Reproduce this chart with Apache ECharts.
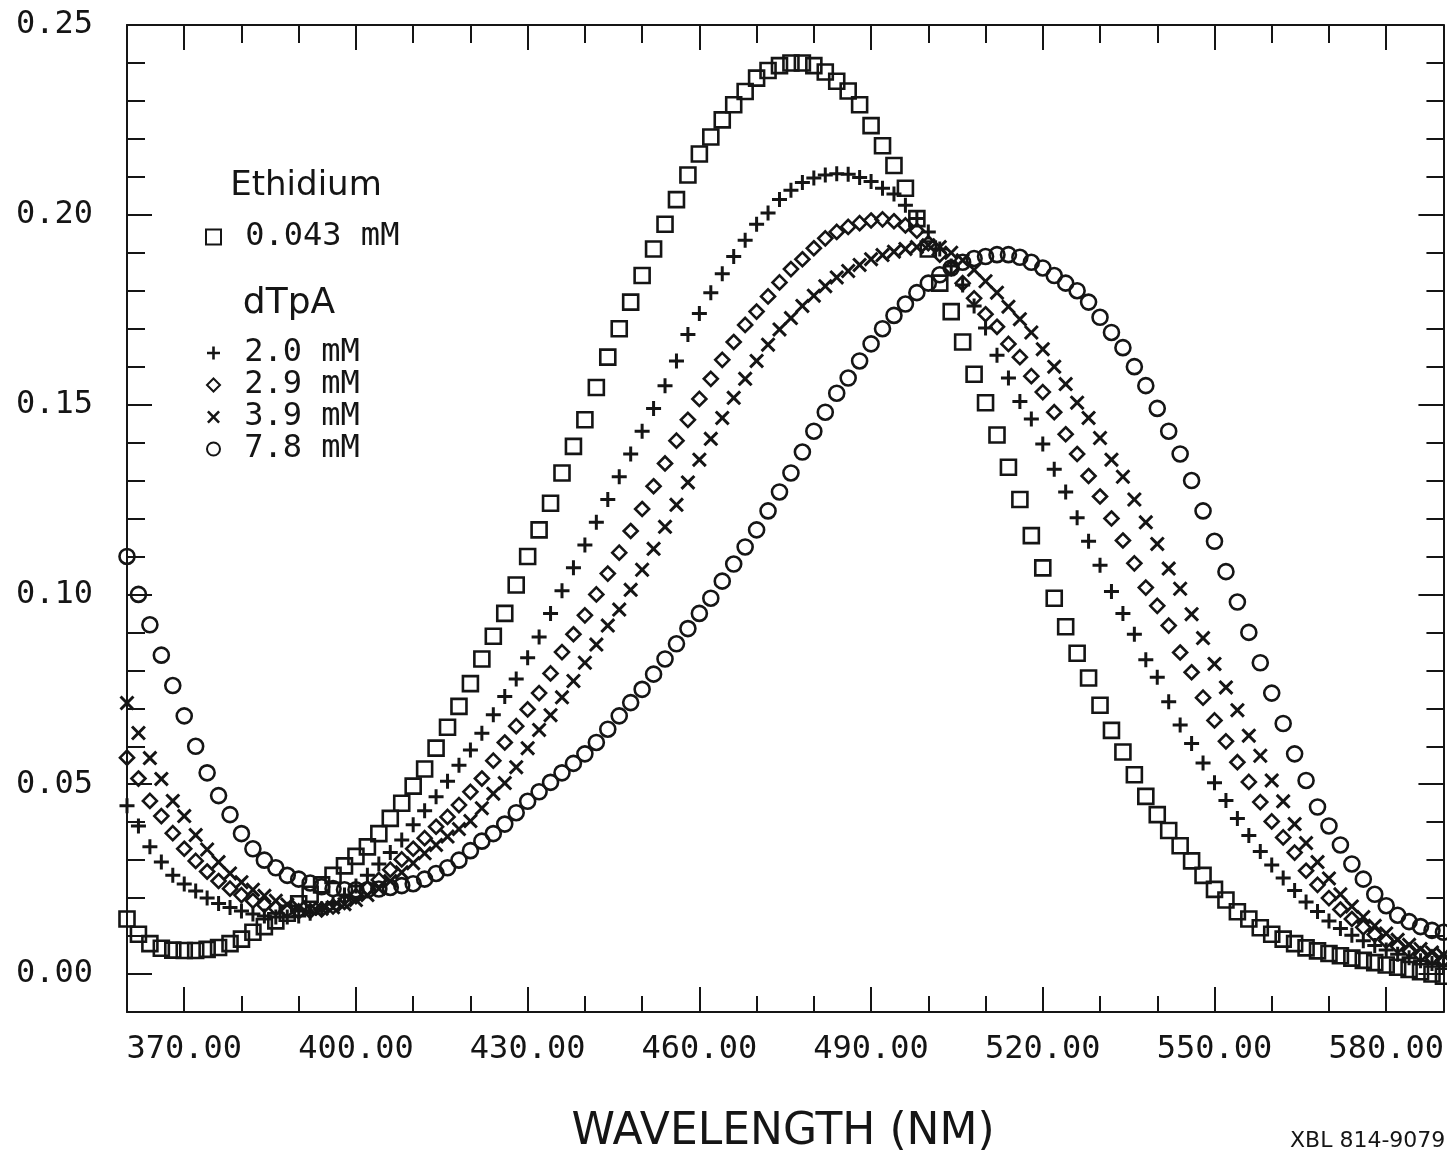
<!DOCTYPE html>
<html>
<head>
<meta charset="utf-8">
<script src="https://cdn.jsdelivr.net/npm/echarts/dist/echarts.min.js"></script>
<style>
html,body{margin:0;padding:0;background:#ffffff;}
#c{width:1447px;height:1154px;}
</style>
</head>
<body>
<div id="c"></div>
<script>
// Wavelength (nm), one point every 2 nm
const wavelengths = [
  360,362,364,366,368,370,372,374,376,378,
  380,382,384,386,388,390,392,394,396,398,
  400,402,404,406,408,410,412,414,416,418,
  420,422,424,426,428,430,432,434,436,438,
  440,442,444,446,448,450,452,454,456,458,
  460,462,464,466,468,470,472,474,476,478,
  480,482,484,486,488,490,492,494,496,498,
  500,502,504,506,508,510,512,514,516,518,
  520,522,524,526,528,530,532,534,536,538,
  540,542,544,546,548,550,552,554,556,558,
  560,562,564,566,568,570,572,574,576,578,
  580,582,584,586,588,590
];
// Ethidium 0.043 mM alone (squares)
const ethidium = [
  0.0145,0.0105,0.008,0.0068,0.0063,0.0062,0.0062,0.0065,0.007,0.008,
  0.0092,0.011,0.0125,0.014,0.016,0.0185,0.021,0.0235,0.026,0.0285,
  0.031,0.0335,0.037,0.041,0.045,0.0495,0.054,0.0595,0.065,0.0705,
  0.0765,0.083,0.089,0.095,0.1025,0.110,0.117,0.124,0.132,0.139,
  0.146,0.1545,0.1625,0.170,0.177,0.184,0.191,0.1975,0.204,0.2105,
  0.216,0.2205,0.225,0.229,0.2325,0.236,0.238,0.2393,0.240,0.240,
  0.2393,0.2376,0.2352,0.2326,0.229,0.2235,0.2182,0.213,0.207,0.199,
  0.191,0.182,0.1745,0.1665,0.158,0.1505,0.142,0.1335,0.125,0.1155,
  0.107,0.099,0.0915,0.0845,0.078,0.0708,0.0642,0.0585,0.0525,0.0468,
  0.042,0.0378,0.0338,0.0298,0.026,0.0223,0.0195,0.0164,0.0145,0.0122,
  0.0105,0.0092,0.008,0.0069,0.0061,0.0054,0.0048,0.0042,0.0036,0.003,
  0.0024,0.0018,0.0012,0.0006,0.0,-0.0006
];
// dTpA 2.0 mM (plus)
const dTpA20 = [
  0.0443,0.039,0.0335,0.0295,0.026,0.0237,0.0219,0.020,0.0186,0.0175,
  0.0166,0.0158,0.0153,0.015,0.015,0.0153,0.016,0.0172,0.0188,0.0208,
  0.0232,0.026,0.029,0.032,0.0353,0.0393,0.043,0.0467,0.0508,0.055,
  0.059,0.0634,0.0683,0.0731,0.0777,0.0833,0.0888,0.095,0.101,0.107,
  0.113,0.119,0.125,0.131,0.137,0.143,0.149,0.155,0.1615,0.1685,
  0.174,0.1795,0.1845,0.189,0.1933,0.1975,0.2005,0.204,0.2065,0.2085,
  0.2097,0.2105,0.2108,0.2107,0.2098,0.2088,0.207,0.2055,0.2025,0.199,
  0.1955,0.191,0.1865,0.1815,0.176,0.1702,0.163,0.157,0.1508,0.1462,
  0.1396,0.133,0.127,0.1202,0.114,0.1077,0.1008,0.095,0.0895,0.0828,
  0.0782,0.0717,0.0656,0.0607,0.0556,0.0504,0.0457,0.041,0.0365,0.0323,
  0.0287,0.0253,0.022,0.019,0.0165,0.014,0.012,0.0102,0.0088,0.0075,
  0.0063,0.0052,0.0043,0.0035,0.0028,0.0022
];
// dTpA 2.9 mM (diamond)
const dTpA29 = [
  0.057,0.0515,0.0456,0.0416,0.0371,0.033,0.0298,0.027,0.0245,0.0225,
  0.0208,0.0193,0.0182,0.0174,0.0168,0.0165,0.0166,0.017,0.0178,0.019,
  0.0205,0.0225,0.0248,0.0275,0.0302,0.033,0.0358,0.0388,0.0414,0.0445,
  0.048,0.0515,0.0562,0.061,0.0653,0.0697,0.074,0.0792,0.0848,0.0895,
  0.0945,0.1,0.1055,0.111,0.1167,0.1225,0.1285,0.1345,0.1405,0.146,
  0.1515,0.1568,0.1618,0.1665,0.171,0.1745,0.1785,0.1822,0.1857,0.1883,
  0.1912,0.1938,0.1955,0.1968,0.1978,0.1985,0.1988,0.1983,0.1972,0.1958,
  0.1925,0.1895,0.186,0.182,0.178,0.1738,0.1705,0.166,0.1625,0.1575,
  0.1533,0.148,0.1422,0.137,0.1312,0.1258,0.12,0.1142,0.1082,0.1018,
  0.097,0.0918,0.0847,0.0795,0.0728,0.0668,0.0613,0.0558,0.0506,0.0453,
  0.0402,0.036,0.032,0.0272,0.0235,0.02,0.017,0.0145,0.0123,0.0104,
  0.0088,0.0074,0.0062,0.0052,0.0044,0.0037
];
// dTpA 3.9 mM (cross)
const dTpA39 = [
  0.0714,0.0635,0.0569,0.0514,0.0456,0.0416,0.0366,0.0328,0.0295,0.0265,
  0.0242,0.0222,0.0206,0.0193,0.0183,0.0176,0.0172,0.0172,0.0176,0.0184,
  0.0195,0.0208,0.0225,0.0245,0.0268,0.0292,0.0318,0.034,0.0362,0.0382,
  0.0403,0.0437,0.0475,0.0503,0.0545,0.0595,0.0643,0.0682,0.0729,0.0772,
  0.082,0.0868,0.0918,0.096,0.1012,0.1065,0.112,0.1178,0.1236,0.1295,
  0.1355,0.141,0.1465,0.1518,0.1568,0.1615,0.1658,0.1698,0.1728,0.176,
  0.1787,0.1812,0.1835,0.1852,0.1868,0.1883,0.1894,0.1903,0.191,0.1915,
  0.192,0.1915,0.19,0.188,0.1855,0.1825,0.1795,0.1758,0.1725,0.169,
  0.1646,0.16,0.1554,0.1505,0.1465,0.1412,0.1355,0.131,0.125,0.119,
  0.1133,0.1068,0.1015,0.0948,0.0885,0.0817,0.0755,0.0695,0.0628,0.0575,
  0.051,0.0455,0.0395,0.0345,0.0295,0.0252,0.021,0.0178,0.015,0.0127,
  0.0107,0.009,0.0077,0.0066,0.0057,0.005
];
// dTpA 7.8 mM (circle)
const dTpA78 = [
  0.110,0.100,0.092,0.084,0.076,0.068,0.060,0.053,0.047,0.042,
  0.037,0.033,0.030,0.028,0.026,0.025,0.024,0.023,0.0225,0.0222,
  0.0222,0.0222,0.0224,0.0228,0.0233,0.0238,0.025,0.0265,0.028,0.030,
  0.0325,0.035,0.037,0.0395,0.0425,0.0455,0.048,0.0505,0.053,0.0555,
  0.058,0.061,0.0645,0.068,0.0715,0.075,0.079,0.083,0.087,0.091,
  0.095,0.099,0.1035,0.108,0.1125,0.117,0.122,0.127,0.132,0.1375,
  0.143,0.148,0.153,0.157,0.1615,0.166,0.170,0.1735,0.1765,0.1795,
  0.182,0.1842,0.186,0.1875,0.1885,0.189,0.1895,0.1895,0.1888,0.1875,
  0.186,0.184,0.182,0.180,0.177,0.173,0.169,0.165,0.160,0.155,
  0.149,0.143,0.137,0.130,0.122,0.114,0.106,0.098,0.090,0.082,
  0.074,0.066,0.058,0.051,0.044,0.039,0.034,0.029,0.025,0.021,
  0.018,0.0155,0.0138,0.0125,0.0115,0.011
];
// Axis ticks and labels
const xLabelTicks = [370,400,430,460,490,520,550,580];
const xSmallTicks = [370,380,390,400,410,420,430,440,450,460,470,480,490,500,510,520,530,540,550,560,570,580];
const yLabelTicks = [0.00,0.05,0.10,0.15,0.20,0.25];
const yLongTicks = [0.00,0.05,0.10,0.15,0.20];
const ySmallTicks = [0.00,0.01,0.02,0.03,0.04,0.05,0.06,0.07,0.08,0.09,0.10,0.11,0.12,0.13,0.14,0.15,0.16,0.17,0.18,0.19,0.20,0.21,0.22,0.23,0.24];

const INK = '#151515';
const MONO = '"DejaVu Sans Mono", monospace';
const SANS = '"DejaVu Sans", sans-serif';

function xAx(pos, ticks, len, line, labels) {
  return {
    type: 'value', position: pos, min: 360, max: 590, gridIndex: 0,
    axisLine: {show: line, onZero: false, lineStyle: {color: INK, width: 2}},
    axisTick: {show: true, inside: true, length: len, customValues: ticks, lineStyle: {color: INK, width: 2}},
    axisLabel: labels ? {
      show: true, customValues: xLabelTicks, formatter: v => v.toFixed(2),
      fontFamily: MONO, fontSize: 32, color: INK, margin: 22
    } : {show: false},
    splitLine: {show: false}
  };
}
function yAx(pos, ticks, len, line, labels) {
  return {
    type: 'value', position: pos, min: -0.01, max: 0.25, gridIndex: 0,
    axisLine: {show: line, onZero: false, lineStyle: {color: INK, width: 2}},
    axisTick: {show: true, inside: true, length: len, customValues: ticks, lineStyle: {color: INK, width: 2}},
    axisLabel: labels ? {
      show: true, customValues: yLabelTicks, formatter: v => v.toFixed(2),
      fontFamily: MONO, fontSize: 32, color: INK, margin: 34
    } : {show: false},
    splitLine: {show: false}
  };
}

const PLUS = 'path://M4,0L6,0L6,4L10,4L10,6L6,6L6,10L4,10L4,6L0,6L0,4L4,4Z';
const CROSS = 'path://M1.4,0L5,3.6L8.6,0L10,1.4L6.4,5L10,8.6L8.6,10L5,6.4L1.4,10L0,8.6L3.6,5L0,1.4Z';

function series(name, vals, symbol, size, hollow) {
  return {
    type: 'scatter', name: name, xAxisIndex: 0, yAxisIndex: 0,
    data: wavelengths.map((w, i) => [w, vals[i]]),
    symbol: symbol, symbolSize: size,
    clip: false, silent: true,
    itemStyle: hollow
      ? {color: 'rgba(255,255,255,0)', borderColor: INK, borderWidth: 2.6, opacity: 1}
      : {color: INK, borderWidth: 0, opacity: 1},
    emphasis: {disabled: true}
  };
}

const option = {
  animation: false,
  backgroundColor: '#ffffff',
  textStyle: {fontFamily: MONO, color: INK},
  grid: {left: 127, top: 25, width: 1323, height: 987},
  xAxis: [
    xAx('bottom', xLabelTicks, 25, true, true),
    xAx('bottom', xSmallTicks, 16, false, false),
    xAx('top', xLabelTicks, 25, true, false),
    xAx('top', xSmallTicks, 18, false, false)
  ],
  yAxis: [
    yAx('left', yLongTicks, 25, true, true),
    yAx('left', ySmallTicks, 18, false, false),
    yAx('right', yLongTicks, 25, true, false),
    yAx('right', ySmallTicks, 17, false, false)
  ],
  legend: [
    {
      data: ['0.043 mM'], orient: 'vertical', left: 205, top: 221, padding: 0,
      itemWidth: 15, itemHeight: 15, itemGap: 0, selectedMode: false,
      formatter: n => ' ' + n,
      textStyle: {fontFamily: MONO, fontSize: 32, color: INK, lineHeight: 32}
    },
    {
      data: ['2.0 mM', '2.9 mM', '3.9 mM', '7.8 mM'], orient: 'vertical', left: 206, top: 337, padding: 0,
      itemWidth: 13, itemHeight: 13, itemGap: 0, selectedMode: false,
      formatter: n => ' ' + n,
      textStyle: {fontFamily: MONO, fontSize: 32, color: INK, lineHeight: 29}
    }
  ],
  graphic: [
    {type: 'text', x: 306, y: 186, style: {text: 'Ethidium', font: '34px ' + SANS, fill: INK, align: 'center', verticalAlign: 'middle'}},
    {type: 'text', x: 289, y: 304, style: {text: 'dTpA', font: '36px ' + SANS, fill: INK, align: 'center', verticalAlign: 'middle'}},
    {type: 'text', x: 783, y: 1133, style: {text: 'WAVELENGTH (NM)', font: '44px ' + SANS, fill: INK, align: 'center', verticalAlign: 'middle'}},
    {type: 'text', x: 1290, y: 1141, style: {text: 'XBL 814-9079', font: '22px ' + SANS, fill: INK, align: 'left', verticalAlign: 'middle'}}
  ],
  series: [
    series('0.043 mM', ethidium, 'rect', 15, true),
    series('2.0 mM', dTpA20, PLUS, 15, false),
    series('2.9 mM', dTpA29, 'diamond', 14, true),
    series('3.9 mM', dTpA39, CROSS, 15, false),
    series('7.8 mM', dTpA78, 'circle', 15, true)
  ]
};

const chart = echarts.init(document.getElementById('c'));
chart.setOption(option);
</script>
</body>
</html>
